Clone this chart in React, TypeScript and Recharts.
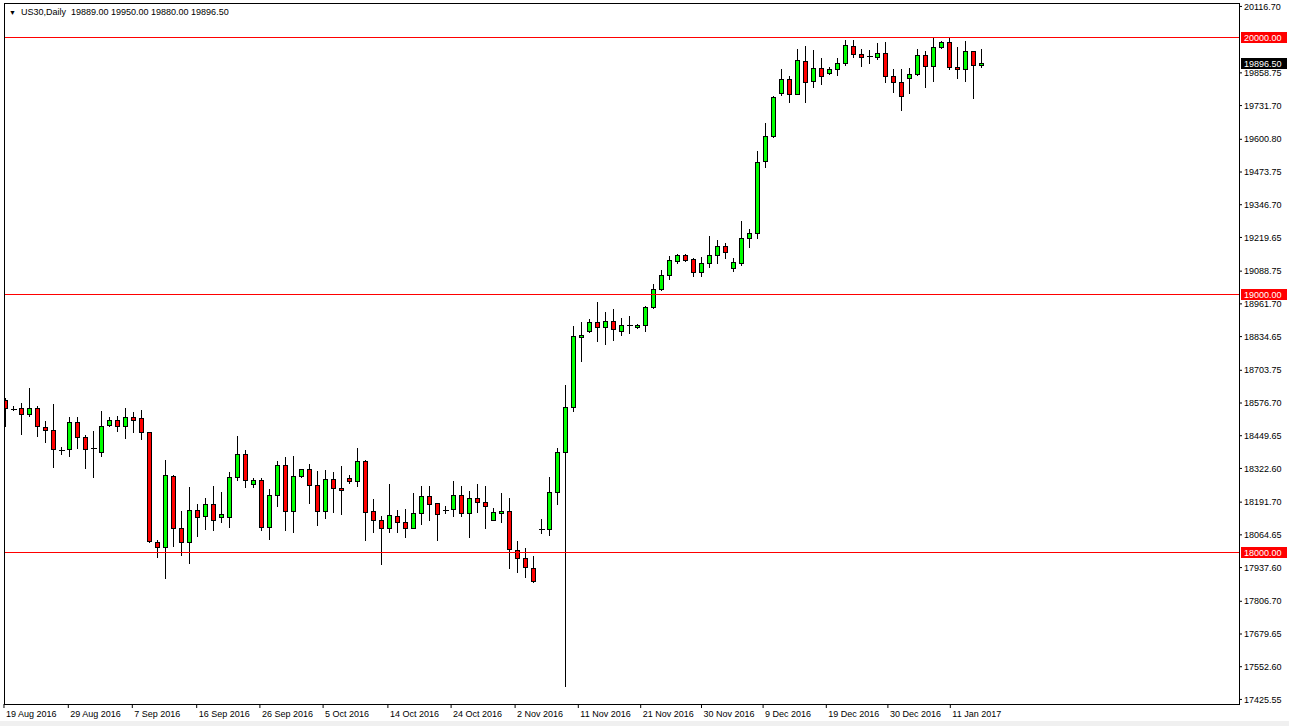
import React from 'react';
import { ComposedChart, Bar, XAxis, YAxis, ReferenceLine } from 'recharts';

const FONT = '"Liberation Sans", Arial, sans-serif';

const opens = [
  18590, 18554, 18557, 18534, 18557, 18483, 18471, 18395, 18398, 18502,
  18444, 18403, 18386, 18490, 18510, 18487, 18523, 18518, 18464, 18036,
  18016, 18293, 18092, 18035, 18162, 18138, 18184, 18135, 18134, 18288,
  18378, 18262, 18277, 18097, 18218, 18335, 18157, 18293, 18320, 18258,
  18157, 18281, 18246, 18285, 18272, 18351, 18157, 18122, 18093, 18137,
  18114, 18093, 18149, 18215, 18188, 18162, 18167, 18219, 18149, 18207,
  18194, 18124, 18149, 18157, 18007, 17974, 17935, 18087, 18087, 18231,
  18386, 18561, 18833, 18858, 18893, 18871, 18897, 18858, 18878, 18871,
  18878, 18949, 19019, 19075, 19128, 19151, 19136, 19085, 19120, 19151,
  19187, 19101, 19120, 19217, 19236, 19515, 19612, 19780, 19834, 19776,
  19904, 19829, 19877, 19858, 19873, 19897, 19964, 19932, 19926, 19922,
  19935, 19845, 19823, 19838, 19854, 19928, 19884, 19959, 19978, 19881,
  19873, 19943, 19889,
];
const highs = [
  18596, 18566, 18576, 18636, 18566, 18508, 18574, 18405, 18524, 18524,
  18453, 18469, 18546, 18521, 18527, 18557, 18540, 18550, 18466, 18045,
  18356, 18298, 18158, 18249, 18185, 18207, 18255, 18231, 18308, 18449,
  18395, 18285, 18285, 18242, 18350, 18367, 18372, 18322, 18341, 18312,
  18315, 18307, 18333, 18298, 18401, 18356, 18203, 18139, 18263, 18162,
  18166, 18229, 18253, 18255, 18190, 18178, 18275, 18255, 18236, 18263,
  18255, 18168, 18227, 18207, 18042, 18013, 17983, 18126, 18289, 18401,
  18645, 18877, 18891, 18902, 18968, 18932, 18941, 18906, 18915, 18883,
  18954, 19040, 19094, 19148, 19154, 19154, 19139, 19143, 19224, 19208,
  19198, 19139, 19284, 19252, 19556, 19664, 19770, 19873, 19845, 19952,
  19964, 19948, 19916, 19881, 19916, 19987, 19987, 19952, 19946, 19974,
  19978, 19873, 19873, 19877, 19952, 19944, 20000, 19981, 19998, 19961,
  19981, 19944, 19950,
];
const lows = [
  18486, 18551, 18457, 18527, 18447, 18426, 18330, 18380, 18369, 18403,
  18325, 18288, 18369, 18486, 18469, 18440, 18466, 18438, 18036, 17977,
  17899, 18020, 17985, 17957, 18062, 18087, 18084, 18113, 18095, 18276,
  18249, 18250, 18082, 18048, 18175, 18084, 18074, 18289, 18190, 18104,
  18132, 18155, 18146, 18266, 18253, 18045, 18074, 17952, 18074, 18077,
  18055, 18090, 18108, 18123, 18043, 18149, 18139, 18136, 18055, 18155,
  18090, 18121, 18113, 17935, 17922, 17901, 17880, 18071, 18065, 18185,
  17476, 18544, 18738, 18851, 18816, 18805, 18822, 18839, 18848, 18867,
  18855, 18945, 19014, 19059, 19120, 19130, 19068, 19068, 19104, 19120,
  19139, 19088, 19113, 19181, 19217, 19493, 19608, 19771, 19744, 19776,
  19744, 19802, 19815, 19854, 19851, 19890, 19922, 19884, 19897, 19912,
  19825, 19783, 19715, 19780, 19851, 19803, 19829, 19955, 19875, 19838,
  19829, 19761, 19880,
];
const closes = [
  18557, 18554, 18534, 18557, 18486, 18470, 18400, 18395, 18502, 18444,
  18400, 18403, 18487, 18510, 18487, 18522, 18512, 18464, 18039, 18016,
  18297, 18090, 18035, 18162, 18134, 18184, 18121, 18144, 18289, 18378,
  18278, 18278, 18097, 18219, 18335, 18157, 18293, 18320, 18258, 18157,
  18281, 18245, 18237, 18272, 18351, 18155, 18123, 18093, 18141, 18114,
  18093, 18149, 18215, 18184, 18145, 18162, 18219, 18149, 18207, 18192,
  18176, 18152, 18157, 18009, 17974, 17939, 17884, 18087, 18231, 18386,
  18561, 18838, 18842, 18893, 18871, 18897, 18864, 18879, 18878, 18880,
  18949, 19019, 19075, 19133, 19151, 19133, 19085, 19120, 19152, 19187,
  19165, 19124, 19217, 19236, 19512, 19613, 19765, 19834, 19776, 19910,
  19825, 19877, 19847, 19873, 19897, 19967, 19933, 19922, 19926, 19935,
  19845, 19823, 19767, 19854, 19928, 19884, 19961, 19978, 19880, 19873,
  19942, 19890, 19896.5,
];

const dateTickPos = [-0.19, 7.85, 15.85, 23.9, 31.8, 39.7, 47.8, 55.7, 63.7, 71.6, 79.4, 87.0, 94.7, 102.6, 110.3, 118.1];
const dateTickLabels = [
  '19 Aug 2016', '29 Aug 2016', '7 Sep 2016', '16 Sep 2016', '26 Sep 2016', '5 Oct 2016',
  '14 Oct 2016', '24 Oct 2016', '2 Nov 2016', '11 Nov 2016', '21 Nov 2016', '30 Nov 2016',
  '9 Dec 2016', '19 Dec 2016', '30 Dec 2016', '11 Jan 2017',
];
const priceTicks = [
  20116.7, 19858.75, 19731.7, 19600.8, 19473.75, 19346.7, 19219.65, 19088.75, 18961.7,
  18834.65, 18703.75, 18576.7, 18449.65, 18322.6, 18191.7, 18064.65, 17937.6, 17806.7,
  17679.65, 17552.6, 17425.55,
];
const levelLines = [20000, 19000, 18000];
const lastPrice = 19896.5;
const symbolTitle = 'US30,Daily';

const data = opens.map((o, i) => ({
  i,
  open: o,
  high: highs[i],
  low: lows[i],
  close: closes[i],
  range: [lows[i], highs[i]],
}));

const Candle = (props: any) => {
  const { x, y, width, height, payload } = props;
  if (x == null || y == null || !payload) return null;
  const cx = Math.floor(x + width / 2) + 0.5;
  const top = Math.min(y, y + height);
  const h = Math.abs(height);
  const span = payload.high - payload.low;
  const k = span > 0 ? h / span : 0;
  const yOf = (v: number) => top + (payload.high - v) * k;
  const yo = yOf(payload.open);
  const yc = yOf(payload.close);
  const wick = (
    <line x1={cx} x2={cx} y1={Math.round(top)} y2={Math.round(top + h) + 1} stroke="#000" strokeWidth={1} shapeRendering="crispEdges" />
  );
  if (payload.open === payload.close) {
    const ly = Math.round(yo) + 0.5;
    return (
      <g>
        {wick}
        <line x1={cx - 3} x2={cx + 3} y1={ly} y2={ly} stroke="#000" strokeWidth={1} shapeRendering="crispEdges" />
      </g>
    );
  }
  const bt = Math.round(Math.min(yo, yc));
  const bb = Math.max(Math.round(Math.max(yo, yc)), bt + 1);
  const up = payload.close > payload.open;
  return (
    <g>
      {wick}
      <rect
        x={cx - 2}
        y={bt + 0.5}
        width={4}
        height={bb - bt}
        fill={up ? '#00ff00' : '#ff0000'}
        stroke="#000"
        strokeWidth={1}
        shapeRendering="crispEdges"
      />
    </g>
  );
};

const XTick = (props: any) => {
  const { x, y, payload } = props;
  const idx = dateTickPos.indexOf(payload.value);
  const label = idx >= 0 ? dateTickLabels[idx] : '';
  return (
    <text x={x + 2} y={y + 9} fontSize={9} fontFamily={FONT} fill="#000" textAnchor="start">
      {label}
    </text>
  );
};

const PriceTag = (props: any) => {
  const vb = props.viewBox || {};
  const ly = vb.y ?? 0;
  const lx = (vb.x ?? 0) + (vb.width ?? 0);
  return (
    <g>
      <rect x={lx + 2} y={Math.round(ly) - 5} width={46} height={11} fill={props.bg} />
      <text x={lx + 5} y={Math.round(ly) + 4} fontSize={9} fontFamily={FONT} fill="#fff" textAnchor="start">
        {props.text}
      </text>
    </g>
  );
};

const LevelLine = (props: any) => {
  const { x1, x2, y1 } = props;
  const yy = Math.round(y1) + 0.5;
  return <path d={`M${x1},${yy}H${x2}`} stroke="#ff0000" strokeWidth={1} fill="none" shapeRendering="crispEdges" />;
};

export default function App() {
  return (
    <div style={{ position: 'absolute', left: 0, top: 0, width: 1289, height: 726, background: '#fff', overflow: 'hidden' }}>
      <ComposedChart
        width={1289}
        height={726}
        data={data}
        margin={{ top: 3, right: 0, left: 4, bottom: 0 }}
      >
        <XAxis
          dataKey="i"
          type="number"
          domain={[-0.1875, 154.1875]}
          allowDataOverflow
          ticks={dateTickPos}
          interval={0}
          height={22}
          axisLine={false}
          tickLine={{ stroke: '#000' }}
          tickSize={4}
          tickMargin={0}
          tick={<XTick />}
        />
        <YAxis
          orientation="right"
          type="number"
          domain={[17407.8, 20130.1]}
          allowDataOverflow
          ticks={priceTicks}
          interval={0}
          width={50}
          axisLine={false}
          tickLine={{ stroke: '#000' }}
          tickSize={3}
          tickMargin={2}
          tickFormatter={(v: number) => v.toFixed(2)}
          tick={{ fontSize: 9, fill: '#000', fontFamily: FONT }}
        />
        {levelLines.map((lv) => (
          <ReferenceLine
            key={'lv' + lv}
            y={lv}
            stroke="#ff0000"
            ifOverflow="visible"
            shape={<LevelLine />}
            label={<PriceTag text={lv.toFixed(2)} bg="#ff0000" />}
          />
        ))}
        <ReferenceLine
          key="last"
          y={lastPrice}
          stroke="none"
          ifOverflow="visible"
          label={<PriceTag text={lastPrice.toFixed(2)} bg="#000" />}
        />
        <Bar dataKey="range" barSize={5} shape={<Candle />} isAnimationActive={false} />
      </ComposedChart>
      <div
        style={{
          position: 'absolute',
          left: 4,
          top: 3,
          width: 1234,
          height: 700,
          border: '1px solid #000',
          pointerEvents: 'none',
        }}
      />
      <div style={{ position: 'absolute', left: 0, top: 721, width: 1289, height: 5, background: '#f0f0f0' }} />
      <div
        style={{
          position: 'absolute',
          left: 9,
          top: 6,
          fontFamily: FONT,
          fontSize: 9,
          color: '#000',
          whiteSpace: 'pre',
          lineHeight: '12px',
        }}
      >
        <span style={{ fontSize: 7, marginRight: 5 }}>▼</span>
        {symbolTitle}
        {'  '}
        {[opens[opens.length - 1], highs[highs.length - 1], lows[lows.length - 1], closes[closes.length - 1]]
          .map((v) => v.toFixed(2))
          .join(' ')}
      </div>
    </div>
  );
}
